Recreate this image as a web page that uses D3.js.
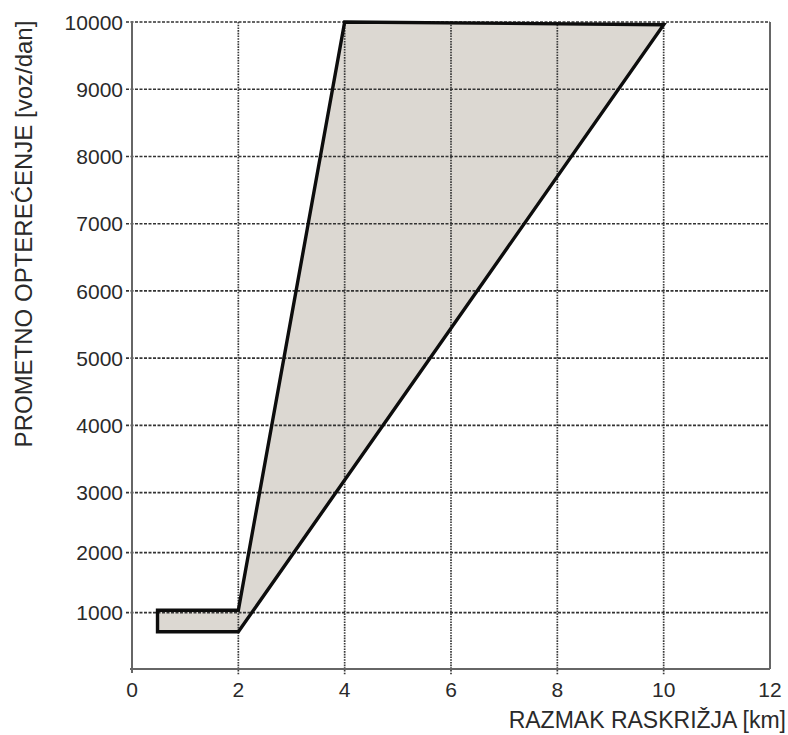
<!DOCTYPE html>
<html>
<head>
<meta charset="utf-8">
<script src="https://cdn.jsdelivr.net/npm/d3@7"></script>
<style>
  html, body { margin: 0; padding: 0; background: #fff; }
  svg { display: block; }
  text { font-family: "Liberation Sans", Arial, sans-serif; fill: #2a2a2a; }
</style>
</head>
<body>
<svg id="chart" width="788" height="735"></svg>
<script>
// ---- data ----
const xTicks = [0, 2, 4, 6, 8, 10, 12];
const yTicks = [1000, 2000, 3000, 4000, 5000, 6000, 7000, 8000, 9000, 10000];
// boundary of the shaded region: [razmak km, opterecenje voz/dan]
const regionX = [0.48, 2, 4, 10, 2, 0.48];
const regionY = [1040, 1040, 10000, 9960, 680, 680];
const xTitle = "RAZMAK RASKRIŽJA [km]";
const yTitle = "PROMETNO OPTEREĆENJE [voz/dan]";

// ---- layout ----
const W = 788, H = 735;
const m = { top: 22, right: 18, bottom: 66, left: 132 };
const iw = W - m.left - m.right, ih = H - m.top - m.bottom;

const svg = d3.select("#chart");
const g = svg.append("g").attr("transform", `translate(${m.left},${m.top})`);

const x = d3.scaleLinear().domain([0, 12]).range([0, iw]);
// hand-drawn axis: lower part is slightly compressed
const y = d3.scaleLinear().domain([60, 3000, 10000]).range([ih, ih * 0.7275, 0]);

const pts = regionX.map((v, i) => [v, regionY[i]]);
const line = d3.line().x(d => x(d[0])).y(d => y(d[1])).curve(d3.curveLinearClosed);

// fill
g.append("path").attr("d", line(pts)).attr("fill", "#dcd8d2").attr("stroke", "none");

// vertical grid lines (dotted)
g.selectAll(".vg").data(xTicks.filter(d => d > 0 && d < 12)).join("line")
  .attr("x1", d => x(d)).attr("x2", d => x(d))
  .attr("y1", 0).attr("y2", ih + 6)
  .attr("stroke", "#3a3a3a").attr("stroke-width", 1.7).attr("stroke-dasharray", "1.6,1.1");

// horizontal grid lines (dashed)
g.selectAll(".hg").data(yTicks).join("line")
  .attr("x1", -6).attr("x2", iw)
  .attr("y1", d => y(d)).attr("y2", d => y(d))
  .attr("stroke", "#333").attr("stroke-width", 1.7).attr("stroke-dasharray", "3,1.5");

// frame: left, bottom, right
g.append("path")
  .attr("d", `M0,0V${ih + 4}M-2,${ih}H${iw}M${iw},0V${ih}`)
  .attr("fill", "none").attr("stroke", "#666").attr("stroke-width", 2);

// outline of the region
g.append("path").attr("d", line(pts))
  .attr("fill", "none").attr("stroke", "#0d0d0d").attr("stroke-width", 3.4)
  .attr("stroke-linejoin", "miter");

// tick labels
g.selectAll(".yl").data(yTicks).join("text")
  .attr("x", -9).attr("y", d => y(d)).attr("dy", "0.36em")
  .attr("text-anchor", "end").attr("font-size", 21)
  .text(d => d);

g.selectAll(".xl").data(xTicks).join("text")
  .attr("x", d => x(d)).attr("y", ih + 28)
  .attr("text-anchor", "middle").attr("font-size", 21)
  .text(d => d);

// axis titles
svg.append("text")
  .attr("x", 786).attr("y", 728)
  .attr("text-anchor", "end").attr("font-size", 23)
  .text(xTitle);

svg.append("text")
  .attr("transform", "translate(32,234) rotate(-90)")
  .attr("text-anchor", "middle").attr("font-size", 24)
  .text(yTitle);
</script>
</body>
</html>
